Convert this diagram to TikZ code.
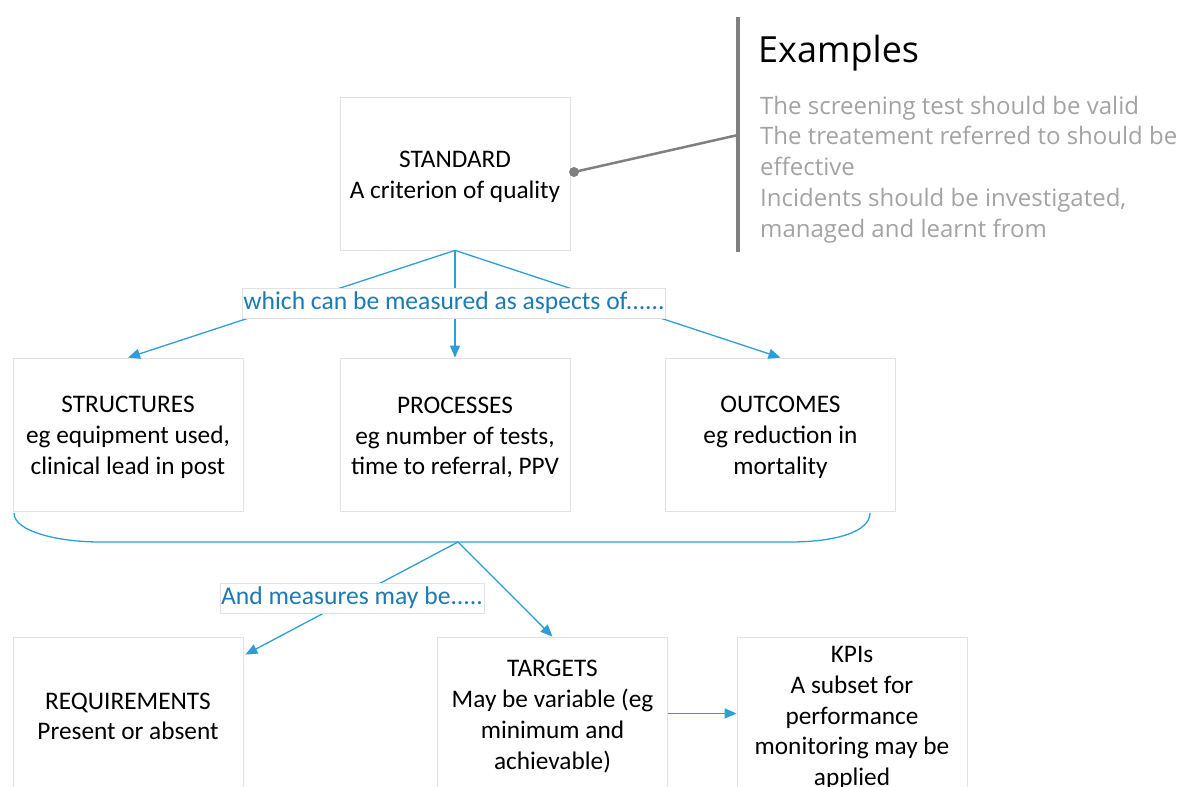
\documentclass[tikz,border=0pt]{standalone}
\usepackage{fontspec}
\setmainfont{Carlito}
\newfontfamily\exfont{Open Sans}
\usetikzlibrary{arrows.meta,calc}
\definecolor{lblue}{HTML}{2C9FD9}
\definecolor{tblue}{HTML}{1C7BB3}
\definecolor{bord}{HTML}{E2E2E2}
\definecolor{exgray}{HTML}{A3A3A3}
\definecolor{barc}{HTML}{808080}
\begin{document}
\begin{tikzpicture}[x=1pt,y=-1pt,
 box/.style={draw=bord, line width=0.8pt, minimum width=230pt, minimum height=153pt, inner sep=0pt},
 boxtext/.style={align=center, font=\fontsize{25.3}{30.7}\selectfont, inner sep=0pt, yshift=-3pt},
 lbl/.style={fill=white, draw=bord, line width=0.6pt, text=tblue, font=\fontsize{25.6}{30.5}\selectfont, inner sep=1pt, minimum height=30pt},
 conn/.style={draw=lblue, line width=1.3pt, -{Triangle[length=12pt,width=10pt]}},
 link/.style={draw=lblue, line width=1.3pt},
]
\useasboundingbox (0,0) rectangle (1178,787);
% boxes
\node[box, label={[boxtext]center:{STANDARD\\A criterion of quality}}] (std) at (455,173.5) {};
\node[box, label={[boxtext]center:{STRUCTURES\\eg equipment used,\\clinical lead in post}}] (str) at (128,434.5) {};
\node[box, label={[boxtext]center:{PROCESSES\\eg number of tests,\\time to referral, PPV}}] (pro) at (455,434.5) {};
\node[box, label={[boxtext]center:{OUTCOMES\\eg reduction in\\mortality}}] (out) at (780.5,434.5) {};
\node[box, label={[boxtext]center:{REQUIREMENTS\\Present or absent}}] (req) at (128,713.5) {};
\node[box, label={[boxtext]center:{TARGETS\\May be variable (eg\\minimum and\\achievable)}}] (tar) at (552.5,713.5) {};
\node[box, label={[boxtext, yshift=-1.5pt]center:{KPIs\\A subset for\\performance\\monitoring may be\\applied}}] (kpi) at (852,713.5) {};
% examples
\coordinate (bt) at (738,17);
\coordinate (bb) at (738,252);
\coordinate (bj) at (738,135);
\draw[barc, line width=4pt] (bt) -- (bb);
\node[circle, fill=barc, inner sep=0pt, minimum size=10pt] (dot) at (574,172) {};
\draw[barc, line width=2.5pt] (dot.center) -- (bj);
\node[anchor=base west, inner sep=0pt, font=\exfont\fontsize{36}{42}\selectfont] (exh) at (758,62) {Examples};
\node[anchor=north west, align=left, text=exgray, inner sep=0pt, font=\exfont\fontsize{24}{30.75}\selectfont] (exl) at (760,94) {\rule{0pt}{20pt}The screening test should be valid\\The treatement referred to should be\\effective\\Incidents should be investigated,\\managed and learnt from};
% arrows from standard
\draw[conn] (std.south) -- (str.north);
\draw[conn] (std.south) -- (pro.north);
\draw[conn] (std.south) -- (out.north);
\node[lbl] (l1) at (454,303) {which can be measured as aspects of......};
% brace
\coordinate (bl) at (14,513);
\coordinate (br) at (870,513);
\coordinate (bc) at (458,542);
\draw[link] (bl) .. controls (14,532) and (60,542) .. (100,542) -- (bc) -- (790,542) .. controls (835,542) and (870,532) .. (br);
\draw[conn] (bc) -- ($(req.north east)+(2,18)$);
\draw[conn] (bc) -- (tar.north);
\node[lbl] (l2) at (352,598) {And measures may be.....};
\draw[conn] (tar.east) -- (kpi.west);
\end{tikzpicture}
\end{document}
